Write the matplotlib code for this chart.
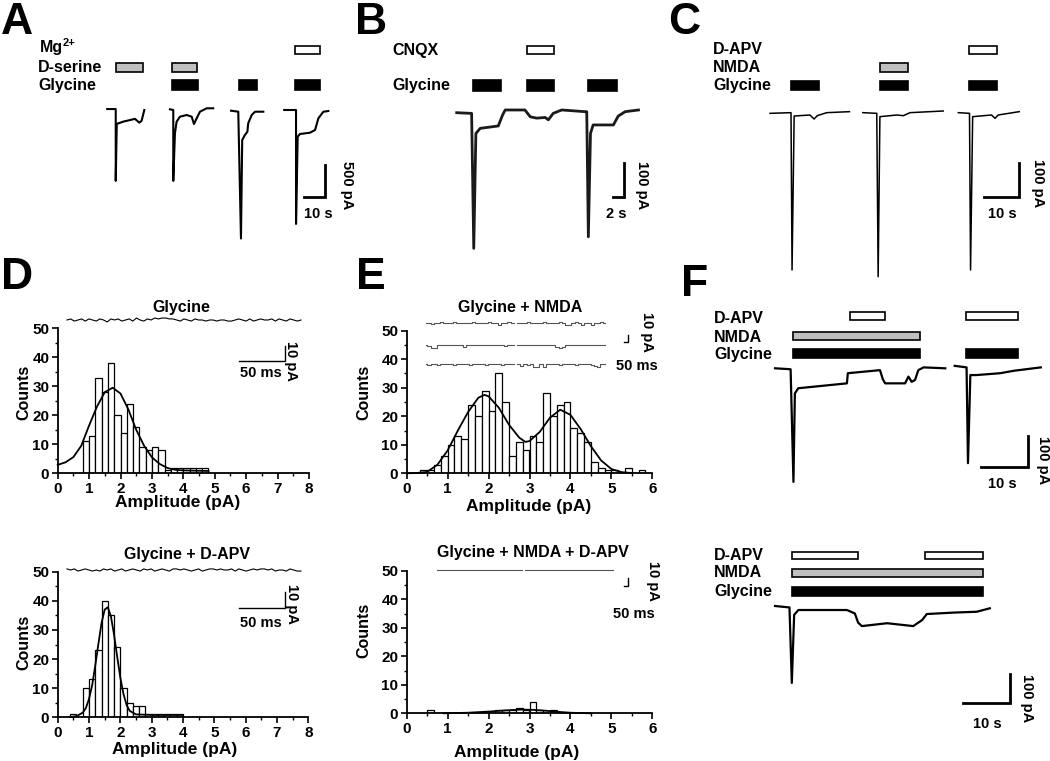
import numpy as np
import matplotlib
matplotlib.use("Agg")
import matplotlib.pyplot as plt
import matplotlib.transforms as mtransforms
from matplotlib.patches import Rectangle

W, H = 1050, 761

# ---- panel A: whole-cell sweeps (time s, current pA) ----
a_sweeps_t = [[3.5, 7.6, 7.6, 8.1, 11.1, 16.9, 19.0, 20.1, 21.4],
              [33.8, 35.4, 35.4, 36.2, 37.0, 38.6, 41.9, 44.3, 45.4, 46.7, 48.3, 51.5, 54.7],
              [63.3, 66.8, 68.1, 68.7, 70.0, 71.2, 71.6, 73.3, 74.9, 78.9],
              [89.0, 94.7, 94.7, 95.5, 96.6, 101.4, 103.9, 105.5, 107.9, 110.3]]
a_sweeps_i = [[15, 15, -1120, -220, -185, -140, -200, -170, 0],
              [11, 0, -1120, -370, -185, -106, -79, -106, -221, -131, -27, 27, 27],
              [-11, -27, -2030, -474, -395, -343, -210, -79, -27, -27],
              [0, 0, -1800, -422, -379, -359, -316, -131, -27, -16]]
a_mg = [(94.2, 106.3)]
a_dserine = [(7.7, 20.9), (34.9, 46.7)]
a_glycine = [(34.9, 47.2), (67.3, 75.7), (94.2, 106.3)]

# ---- panel B ----
b_t = [0, 2.8, 3.2, 3.6, 4.4, 7.8, 8.6, 9.1, 12.8, 13.8, 15.0, 16.6, 17.2, 18.1, 19.7,
       24.1, 24.4, 24.7, 25.1, 25.6, 29.4, 30.3, 31.6, 34.1]
b_i = [0, -2, -399, -61, -46, -39, -7, 8, 8, -12, -16, -14, -21, -2, 8,
       3, 3, -365, -61, -36, -36, -10, 3, 8]
b_cnqx = [(13.1, 18.3)]
b_glycine = [(3.0, 8.3), (13.1, 18.3), (24.7, 30.0)]

# ---- panel C ----
c_sweeps_t = [[0, 6.0, 6.3, 6.9, 11.4, 12.6, 13.5, 16.2, 22.7],
              [26.5, 30.5, 30.9, 31.4, 36.2, 38.1, 40.0, 49.5],
              [53.8, 57.0, 57.3, 57.9, 63.3, 64.3, 65.2, 71.2]]
c_sweeps_i = [[-1, 1, -470, -9, -6, -18, -8, 1, 4],
              [1, -1, -490, -11, -6, -8, 1, 6],
              [1, -1, -470, -11, -6, -16, -6, 4]]
c_dapv = [(56.9, 64.8)]
c_nmda = [(31.4, 39.3)]
c_glycine = [(6.0, 14.0), (31.4, 39.3), (56.9, 64.8)]

# ---- panel F ----
f1_sweeps_t = [[0, 3.3, 3.9, 4.2, 4.9, 15.2, 15.4, 22.2, 22.8, 23.3, 27.5, 28.2, 28.9, 29.6, 30.3, 31.4, 36.0],
               [38.0, 40.5, 40.8, 41.3, 42.6, 47.6, 50.5, 56.2]]
f1_sweeps_i = [[-1, -4, -371, -83, -66, -50, -17, -7, -37, -50, -50, -28, -45, -39, -7, 2, -1],
               [7, 2, -310, -23, -23, -17, -9, 2]]
f1_dapv = [(15.9, 23.3), (40.3, 51.4)]
f1_nmda = [(3.7, 30.7)]
f1_glycine = [(3.7, 30.7), (40.3, 51.4)]

f2_t = [0, 3.1, 3.6, 4.1, 5.0, 15.4, 17.1, 17.8, 18.6, 24.0, 29.6, 31.5, 32.5, 38.2, 43.2, 46.0]
f2_i = [0, -5, -268, -31, -14, -14, -26, -58, -70, -60, -70, -49, -28, -23, -20, -8]
f2_dapv = [(3.6, 17.8), (32.1, 44.6)]
f2_nmda = [(3.6, 44.6)]
f2_glycine = [(3.6, 44.6)]

# ---- panel D: amplitude histograms ----
d1_start, d1_width = 0.8, 0.2
d1_counts = [11, 13, 33, 28, 38, 20, 14, 24, 16, 9, 8, 9, 8, 1, 2, 2, 2, 2, 2, 2]
d1_fit_x = [0, 0.25, 0.5, 0.75, 1.0, 1.25, 1.5, 1.75, 2.0, 2.25, 2.5, 2.75, 3.0, 3.25, 3.5, 3.75, 4.0, 4.4, 4.8]
d1_fit_y = [2.9, 3.8, 5.6, 9.5, 16.5, 23, 28, 29.5, 27.5, 22, 15, 9.5, 5.5, 3.2, 1.8, 1.2, 1.0, 0.9, 0.8]

d2_start, d2_width = 0.4, 0.2
d2_counts = [1, 0, 10, 13, 23, 40, 35, 24, 10, 5, 4, 4, 1, 1, 1, 1, 1, 1]
d2_fit_x = [0.4, 0.6, 0.8, 0.9, 1.0, 1.1, 1.2, 1.3, 1.4, 1.5, 1.6, 1.7, 1.8, 1.9, 2.0, 2.1, 2.2, 2.3, 2.5, 3.0, 3.5, 4.0]
d2_fit_y = [0.1, 0.4, 1.6, 3.2, 6.3, 11, 17.8, 25.3, 32.4, 37, 37.8, 34.6, 28.3, 20.7, 13.6, 8, 4.2, 2.2, 1.0, 0.8, 0.8, 0.8]

# ---- panel E ----
e1_start, e1_width = 1 / 3, 1 / 6
e1_counts = [1, 1, 3, 6, 10, 13, 12, 24, 20, 29, 22, 35, 25, 6, 11, 8, 13, 11, 28, 20, 24, 25,
             16, 14, 11, 4, 2, 1, 1, 0, 2, 0, 1]
e1_fit_x = [0, 0.25, 0.5, 0.75, 1.0, 1.25, 1.5, 1.75, 1.9, 2.0, 2.25, 2.5, 2.75, 2.9, 3.0,
            3.25, 3.5, 3.75, 4.0, 4.25, 4.5, 4.75, 5.0, 5.25, 5.5]
e1_fit_y = [0, 0.1, 0.5, 3, 8, 15, 21.5, 26.5, 27.5, 27, 23, 17, 12.5, 11, 11.3,
            14.5, 19.5, 22.3, 20.5, 15.5, 9.5, 4.5, 1.5, 0.4, 0.1]

e2_start, e2_width = 0.5, 1 / 6
e2_counts = [1, 0, 0, 0, 0, 0, 0, 0, 0, 0, 1, 1, 1, 2, 1, 4, 1, 0, 1]
e2_fit_x = [0.9, 1.5, 2.0, 2.5, 2.8, 3.1, 3.4, 3.7, 4.0, 4.5]
e2_fit_y = [0, 0.2, 0.6, 1.1, 1.3, 1.2, 0.9, 0.5, 0.2, 0]

# ---- single-channel example traces (pA) ----
d1_trace = [0, 0.7, -0.7, 0, 0.7, -0.7, 0.7, 0, -0.7, 0.7, 0, -1.3, 0.7, 0, 0.7, -0.7, 0, 0.7, -0.7,
            1.3, 0, -0.7, 0.7, 0, 1.3, 0.7, 1.3, 1.3, 0.7, 0.7, 0, -0.7, 0.7, 0, -0.7, 0.7, 0, 0,
            -0.7, 0, 0, -0.7, 0, 0, -0.7, -0.7, 0, 0.7, 0, -0.7, 0.7, -0.7, 0, 0.7, 0, 0, 0.7, -0.7,
            0.7, 0, -0.7, 0.7, 0, -0.7, 0]
d2_trace = [0.7, 0, 0.7, -0.7, 0, 0.7, 0, -0.7, 0, -0.7, 0.7, 0, 0.7, -0.7, 0, 0.7, -0.7, 0, 0.7, 0,
            -0.7, 0.7, 0, 0.7, -0.7, 0, 0.7, 0, -0.7, 0.7, 0.7, 0, 0.7, 0, -0.7, 0, 0.7, -0.7, 0,
            0.7, 0.7, 0, 0.7, 0, 0, 0.7, -0.7, 0.7, 0, -0.7, 0, 0.7, 0, 0.7, 0.7, 0, 0.7, -0.7, 0,
            0, -0.7, 0.7, 0, -0.7, -0.7]
e_row1 = [0, -1, -2, 0, 0, 0.5, 0, -0.5, 0, 0.5, 0, 0, -0.5, 0, 0, 0.5, 0, -0.5, 0, 0, 0.5, 0, -0.5,
          -3, -0.5, 0, 0.5, 0, np.nan, 0, -0.5, 0, 0.5, 0, 0, -1, 0, 0.5, 0, -0.5, 0, 0, 0.5, 0, -3,
          -3, 0, 0.5, 0, -3, 0, 0, -3, -0.5, 0, 0.5, 0]
e_row2 = [0, -1, -4, -4, 0, 0.5, 0, 0, -0.5, 0, 0.5, 0, -3, 0, 0, 0.5, 0, -0.5, 0, 0.5, 0, -0.5, 0,
          0, 0.5, -1, 0, 0.5, np.nan, 0, -0.5, 0, 0.5, 0, -0.5, 0, 0.5, 0, 0, -0.5, 0, -3, -4, -3, 0,
          0.5, 0, -0.5, 0, 0.5, 0, 0, -0.5, 0, 0.5, 0, 0]
e_row3 = [0, -0.5, 0, 0.5, -1, 0, 0, 0.5, 0, -0.5, 0, 0.5, 0, 0, -0.5, 0, 0.5, 0, 0, -0.5, 0, 0.5, 0,
          0, -0.5, 0, 0.5, 0, np.nan, 0, -3, 0, -0.5, 0, -4, -4, 0, -4, 0, 0.5, 0, 0, -0.5, 0, 0.5,
          0, 0, -0.5, 0, 0.5, 0, 0, -0.5, -3, -4, 0, 0]
e_bottom = [0, 0.5, 0, -0.5, 0, 0.5, 0, 0, -0.5, 0, 0.5, 0, 0, -0.5, 0, 0.5, 0, -0.5, 0, 0, 0.5, 0,
            -0.5, 0, 0.5, 0, 0, np.nan, 0, -0.5, 0, 0.5, 0, 0, -0.5, 0, 0.5, 0, -0.5, 0, 0.5, 0, 0,
            -0.5, 0, 0.5, 0, 0, -0.5, 0, 0.5, 0, 0, -0.5, 0, 0]

plt.rcParams['font.family'] = ['Liberation Sans', 'DejaVu Sans']
plt.rcParams['font.weight'] = 'bold'

fig = plt.figure(figsize=(W / 100, H / 100), dpi=100)
px = mtransforms.Affine2D().scale(1 / W, -1 / H).translate(0, 1) + fig.transFigure


def label(x, y, s, size=11.5, **kw):
    fig.text(x / W, 1 - y / H, s, fontsize=size, fontweight='bold', **kw)


def scaled_axes(rect, origin, kx, ky):
    # rect and origin in pixels from top-left; kx, ky in pixels per data unit
    x0, y0, x1, y1 = rect
    ox, oy = origin
    ax = fig.add_axes([x0 / W, 1 - y1 / H, (x1 - x0) / W, (y1 - y0) / H])
    ax.set_xlim((x0 - ox) / kx, (x1 - ox) / kx)
    ax.set_ylim((oy - y1) / ky, (oy - y0) / ky)
    ax.axis('off')
    return ax


def drug_bars(ax, spans, ytop, h, color):
    tr = mtransforms.blended_transform_factory(ax.transData, px)
    for t0, t1 in spans:
        ax.add_patch(Rectangle((t0, ytop), t1 - t0, h, transform=tr, facecolor=color,
                               edgecolor='black', linewidth=1.2, clip_on=False))


def scale_bar(ax, corner, dx, dy, lw=2.0):
    cx, cy = ax.transData.inverted().transform(px.transform(corner))
    ax.plot([cx - dx, cx, cx], [cy, cy, cy + dy], color='black', lw=lw,
            solid_joinstyle='miter', clip_on=False)


def hist_panel(rect, xmax, start, width, counts, fit_x, fit_y):
    x0, x1, ytop, ybot = rect
    ax = fig.add_axes([x0 / W, 1 - ybot / H, (x1 - x0) / W, (ybot - ytop) / H])
    left = start + width * np.arange(len(counts))
    ax.bar(left, counts, width=width, align='edge', color='white', edgecolor='black',
           linewidth=0.9, zorder=2)
    ax.plot(fit_x, fit_y, color='black', lw=1.3, zorder=3, clip_on=False)
    ax.set_xlim(0, xmax)
    ax.set_ylim(0, 50)
    for s in ['top', 'right']:
        ax.spines[s].set_visible(False)
    for s in ['left', 'bottom']:
        ax.spines[s].set_linewidth(1.3)
    ax.set_xticks(range(xmax + 1))
    ax.set_xticks(np.arange(0, xmax + 0.01, 0.5), minor=True)
    ax.set_yticks(range(0, 51, 10))
    ax.set_yticks(range(0, 51, 5), minor=True)
    ax.tick_params(which='major', length=4, width=1.2, labelsize=11, pad=2)
    ax.tick_params(which='minor', length=2.5, width=1)
    ax.patch.set_alpha(0)
    return ax


# panel letters
for s, x, y in [('A', 1, 34), ('B', 355, 34), ('C', 668, 34),
                ('D', 1, 289), ('E', 356, 289), ('F', 681, 296)]:
    label(x, y, s, size=32)

# ---------------- A ----------------
axA = scaled_axes((95, 40, 345, 250), (100, 110), 2.07, 0.0633)
for t, i in zip(a_sweeps_t, a_sweeps_i):
    axA.plot(t, i, color='black', lw=1.5, clip_on=False)
drug_bars(axA, a_mg, 45.7, 8.6, 'white')
drug_bars(axA, a_dserine, 63.3, 9, '#c0c0c0')
drug_bars(axA, a_glycine, 80, 10, 'black')
scale_bar(axA, (325, 196.7), 10, 500)
label(40, 52.4, 'Mg')
label(63, 46, '2+', size=8)
label(38, 72.5, 'D-serine')
label(38, 90, 'Glycine')
label(318, 218, '10 s', size=10.5, ha='center')
label(347, 185, '500 pA', size=10.5, rotation=270, ha='center', va='center')

# ---------------- B ----------------
axB = scaled_axes((450, 40, 650, 255), (456.7, 112.7), 5.33, 0.34)
axB.plot(b_t, b_i, color='#1a1a1a', lw=2.0, clip_on=False)
drug_bars(axB, b_cnqx, 46, 8.3, 'white')
drug_bars(axB, b_glycine, 80, 10.7, 'black')
scale_bar(axB, (624, 197.3), 2, 100)
label(392.7, 55, 'CNQX')
label(392.7, 90, 'Glycine')
label(616.7, 218, '2 s', size=10.5, ha='center')
label(642, 185, '100 pA', size=10.5, rotation=270, ha='center', va='center')

# ---------------- C ----------------
axC = scaled_axes((760, 40, 1045, 285), (770, 113), 3.5, 0.334)
for t, i in zip(c_sweeps_t, c_sweeps_i):
    axC.plot(t, i, color='black', lw=1.1, clip_on=False)
drug_bars(axC, c_dapv, 45.7, 8.6, 'white')
drug_bars(axC, c_nmda, 62.7, 9.6, '#c0c0c0')
drug_bars(axC, c_glycine, 81, 9, 'black')
scale_bar(axC, (1019.3, 196.7), 10, 100)
label(713, 54, 'D-APV')
label(713, 71.7, 'NMDA')
label(713, 90, 'Glycine')
label(1002, 218, '10 s', size=10.5, ha='center')
label(1038, 183, '100 pA', size=10.5, rotation=270, ha='center', va='center')

# ---------------- F ----------------
axF1 = scaled_axes((770, 300, 1048, 490), (775, 368), 4.73, 0.307)
for t, i in zip(f1_sweeps_t, f1_sweeps_i):
    axF1.plot(t, i, color='black', lw=1.6, clip_on=False)
drug_bars(axF1, f1_dapv, 312.3, 7.7, 'white')
drug_bars(axF1, f1_nmda, 331.7, 8.3, '#c0c0c0')
drug_bars(axF1, f1_glycine, 349.3, 9, 'black')
scale_bar(axF1, (1028.3, 466.7), 10, 100)
label(714, 322.7, 'D-APV')
label(714, 341.7, 'NMDA')
label(714, 359.3, 'Glycine')
label(1002, 488, '10 s', size=10.5, ha='center')
label(1043, 460, '100 pA', size=10.5, rotation=270, ha='center', va='center')

axF2 = scaled_axes((770, 540, 1048, 735), (775, 606), 4.67, 0.287)
axF2.plot(f2_t, f2_i, color='black', lw=1.6, clip_on=False)
drug_bars(axF2, f2_dapv, 551.7, 7.6, 'white')
drug_bars(axF2, f2_nmda, 569.3, 7.4, '#c0c0c0')
drug_bars(axF2, f2_glycine, 587.3, 8.4, 'black')
scale_bar(axF2, (1010, 703), 10, 100)
label(714, 560, 'D-APV')
label(714, 577.3, 'NMDA')
label(714, 595.7, 'Glycine')
label(987, 728, '10 s', size=10.5, ha='center')
label(1027, 698, '100 pA', size=10.5, rotation=270, ha='center', va='center')

# ---------------- D ----------------
hist_panel((57.7, 309, 328.3, 473.3), 8, d1_start, d1_width, d1_counts, d1_fit_x, d1_fit_y)
hist_panel((57.7, 308.3, 571.7, 717.3), 8, d2_start, d2_width, d2_counts, d2_fit_x, d2_fit_y)

axDt1 = scaled_axes((60, 305, 310, 380), (67, 320), 0.914, 1.53)
axDt1.plot(4 * np.arange(len(d1_trace)), d1_trace, color='black', lw=0.8)
scale_bar(axDt1, (285, 361), 50, 10, lw=1.0)
axDt2 = scaled_axes((60, 555, 310, 625), (67, 570), 0.914, 1.53)
axDt2.plot(4 * np.arange(len(d2_trace)), d2_trace, color='black', lw=0.8)
scale_bar(axDt2, (285, 607.7), 50, 10, lw=1.0)

label(181.7, 312, 'Glycine', size=11.5, ha='center')
label(186.7, 559, 'Glycine + D-APV', size=11.5, ha='center')
label(261, 377, '50 ms', size=10.5, ha='center')
label(291, 361, '10 pA', size=10.5, rotation=270, ha='center', va='center')
label(261, 627, '50 ms', size=10.5, ha='center')
label(292, 604, '10 pA', size=10.5, rotation=270, ha='center', va='center')
label(23.5, 392, 'Counts', size=11.5, rotation=90, ha='center', va='center')
label(23.5, 642, 'Counts', size=11.5, rotation=90, ha='center', va='center')
label(177.5, 507, 'Amplitude (pA)', size=12.5, ha='center')
label(175, 754, 'Amplitude (pA)', size=12.5, ha='center')

# ---------------- E ----------------
hist_panel((406.7, 652.3, 330.7, 473.3), 6, e1_start, e1_width, e1_counts, e1_fit_x, e1_fit_y)
hist_panel((406.7, 652.3, 571, 713.3), 6, e2_start, e2_width, e2_counts, e2_fit_x, e2_fit_y)

for row, oy in zip([e_row1, e_row2, e_row3], [322.7, 345, 364.3]):
    axr = scaled_axes((420, oy - 12, 615, oy + 12), (425.7, oy), 0.08, 0.7)
    axr.plot(40 * np.arange(len(row)), row, color='#555555', lw=0.8, drawstyle='steps-mid')
    if oy == 322.7:
        scale_bar(axr, (628.3, 342), 50, 10, lw=1.0)
axEb = scaled_axes((430, 555, 620, 595), (436.7, 570), 0.08, 0.8)
axEb.plot(40 * np.arange(len(e_bottom)), e_bottom, color='#555555', lw=0.8, drawstyle='steps-mid')
scale_bar(axEb, (628.3, 586), 50, 10, lw=1.0)

label(520, 312.3, 'Glycine + NMDA', size=11.5, ha='center')
label(532.5, 557.3, 'Glycine + NMDA + D-APV', size=11.5, ha='center')
label(636.7, 370, '50 ms', size=10.5, ha='center')
label(647, 332.5, '10 pA', size=10.5, rotation=270, ha='center', va='center')
label(634, 618, '50 ms', size=10.5, ha='center')
label(652.5, 581, '10 pA', size=10.5, rotation=270, ha='center', va='center')
label(364, 392.5, 'Counts', size=11.5, rotation=90, ha='center', va='center')
label(364, 630, 'Counts', size=11.5, rotation=90, ha='center', va='center')
label(528.3, 511, 'Amplitude (pA)', size=12.5, ha='center')
label(516.7, 757, 'Amplitude (pA)', size=12.5, ha='center')

fig.savefig('out.png', dpi=100)
